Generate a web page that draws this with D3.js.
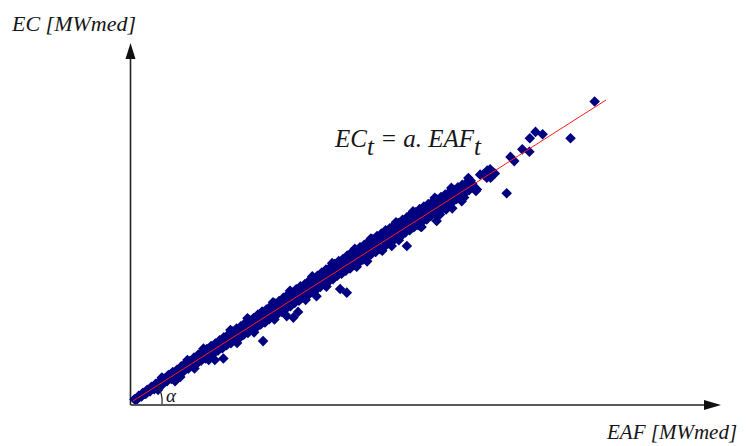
<!DOCTYPE html>
<html>
<head>
<meta charset="utf-8">
<script src="https://cdn.jsdelivr.net/npm/d3@7"></script>
<style>
  html, body { margin: 0; padding: 0; background: #fff; }
  svg { display: block; }
  .lbl { font-family: "Liberation Serif", "DejaVu Serif", serif; font-style: italic; fill: #161616; }
</style>
</head>
<body>
<svg id="chart" width="749" height="446"></svg>
<script>
// Monthly pairs of energy available for allocation (EAF) and energy consumed (EC), MWmed
const bandPoints = [
  [0.3,0.6],[0.6,0.6],[0.9,0.6],[1.2,1.7],[1.5,1.6],[1.8,1.5],[2.1,2.7],[2.4,2.4],[2.7,2.3],
  [3.0,3.7],[3.3,3.5],[3.6,3.2],[3.9,4.7],[4.2,4.3],[4.5,3.9],[4.8,5.7],[5.1,5.4],[5.4,4.9],
  [5.7,6.7],[6.0,6.2],[6.3,5.6],[6.6,7.5],[6.9,7.3],[7.2,6.6],[7.5,8.6],[7.8,8.0],[8.1,7.3],
  [8.4,9.6],[8.7,9.0],[9.0,8.3],[9.3,10.4],[9.6,9.7],[9.9,9.0],[10.2,11.5],[10.5,10.9],[10.8,10.0],
  [11.1,12.5],[11.4,11.7],[11.7,10.7],[12.0,13.3],[12.3,12.8],[12.6,11.7],[12.9,14.4],[13.2,13.4],[13.5,12.4],
  [13.8,15.4],[14.1,14.5],[14.4,13.4],[14.7,16.2],[15.0,15.3],[15.3,14.1],[15.6,17.3],[15.9,16.4],[16.2,15.1],
  [16.5,18.3],[16.8,17.1],[17.1,15.8],[17.4,19.1],[17.7,18.3],[18.0,16.8],[18.3,20.2],[18.6,19.0],[18.9,17.5],
  [19.2,21.2],[19.5,20.0],[19.8,18.5],[20.1,22.0],[20.4,20.7],[20.7,19.2],[21.0,23.1],[21.3,21.9],[21.6,20.2],
  [21.9,24.1],[22.2,22.6],[22.5,20.9],[22.8,24.8],[23.1,23.8],[23.4,22.0],[23.7,25.9],[24.0,24.5],[24.3,22.6],
  [24.6,26.9],[24.9,25.5],[25.2,23.7],[25.5,27.6],[25.8,26.2],[26.1,24.4],[26.4,28.7],[26.7,27.4],[27.0,25.4],
  [27.3,29.7],[27.6,28.1],[27.9,26.1],[28.2,30.4],[28.5,29.1],[28.8,27.2],[29.1,31.5],[29.4,29.8],[29.7,27.9],
  [30.0,32.5],[30.3,31.0],[30.6,28.9],[30.9,33.2],[31.2,31.7],[31.5,29.6],[31.8,34.3],[32.1,32.9],[32.4,30.7],
  [32.7,35.3],[33.0,33.6],[33.3,31.5],[33.6,36.0],[33.9,34.6],[34.2,32.6],[34.5,37.1],[34.8,35.3],[35.1,33.3],
  [35.4,38.1],[35.7,36.5],[36.0,34.3],[36.3,38.8],[36.6,37.2],[36.9,35.0],[37.2,39.9],[37.5,38.4],[37.8,36.2],
  [38.1,40.9],[38.4,39.1],[38.7,36.9],[39.0,41.6],[39.3,40.1],[39.6,37.9],[39.9,42.7],[40.2,40.8],[40.5,38.6],
  [40.8,43.7],[41.1,42.0],[41.4,39.7],[41.7,44.4],[42.0,42.7],[42.3,40.5],[42.6,45.5],[42.9,43.7],[43.2,41.6],
  [43.5,46.5],[43.8,44.4],[44.1,42.3],[44.4,47.2],[44.7,45.6],[45.0,43.3],[45.3,48.3],[45.6,46.3],[45.9,44.0],
  [46.2,49.3],[46.5,47.5],[46.8,45.2],[47.1,50.0],[47.4,48.2],[47.7,45.9],[48.0,51.1],[48.3,49.2],[48.6,46.9],
  [48.9,51.9],[49.2,49.9],[49.5,47.6],[49.8,53.0],[50.1,51.1],[50.4,48.8],[50.7,53.7],[51.0,51.8],[51.3,49.5],
  [51.6,54.8],[51.9,52.8],[52.2,50.5],[52.5,55.6],[52.8,53.5],[53.1,51.2],[53.4,56.7],[53.7,54.7],[54.0,52.4],
  [54.3,57.4],[54.6,55.4],[54.9,53.1],[55.2,58.4],[55.5,56.4],[55.8,54.1],[56.1,59.1],[56.4,57.1],[56.7,54.8],
  [57.0,60.2],[57.3,58.3],[57.6,56.0],[57.9,61.0],[58.2,59.0],[58.5,56.7],[58.8,62.1],[59.1,60.0],[59.4,57.7],
  [59.7,62.7],[60.0,60.7],[60.3,58.4],[60.6,63.8],[60.9,61.9],[61.2,59.6],[61.5,64.6],[61.8,62.6],[62.1,60.3],
  [62.4,65.4],[62.7,63.6],[63.0,61.5],[63.3,66.2],[63.6,64.2],[63.9,62.2],[64.2,67.0],[64.5,65.4],[64.8,63.3],
  [65.1,67.8],[65.4,66.1],[65.7,64.1],[66.0,68.6],[66.3,67.1],[66.6,65.2],[66.9,69.4],[67.2,67.8],[67.5,66.0],
  [67.8,70.2],[68.1,68.9],[68.4,67.1],[68.7,71.0],[69.0,69.5],[69.3,67.9],[69.6,71.8],[69.9,70.6],[70.2,69.0],
  [70.5,72.5],[70.8,71.2],[71.1,70.1],[71.4,73.2],[71.7,72.2],[72.0,71.2]
];

// Months sitting on the ragged edges of the band
const edgePoints = [
  [6.1,7.8],[11.5,13.6],[14.9,17.4],[20.6,23.6],[24.2,27.5],[29.6,32.8],[33.2,36.6],[37.9,41.4],
  [42.1,45.8],[46.9,50.6],[50.3,54.0],[55.6,59.4],[59.2,63.0],[63.8,67.5],[67.3,70.8],[70.9,74.1],
  [10.0,8.0],[13.0,10.8],[16.0,13.6],[22.0,19.3],[25.6,22.8],[29.9,27.1],[36.5,33.6],[40.9,38.0],
  [47.3,44.6],[52.7,49.9],[56.2,53.4],[60.8,58.0],[66.2,63.6],[70.0,67.6]
];

// Months that fall away from the main band
const outlierPoints = [
  [5.3,3.7],[8.9,6.6],[17.3,13.6],[19.1,14.1],[27.5,19.9],[32.5,28.2],[33.9,27.7],[34.9,29.6],
  [38.8,34.8],[43.8,37.2],[45.2,36.0],[49.5,46.4],[54.7,51.5],[57.9,51.5],[61.0,57.8],[64.2,59.8],
  [64.9,62.0],[67.5,64.0],[69.5,66.4],[72.5,69.8],[72.7,70.3],[73.4,75.2],[74.1,75.3],[74.8,74.2],
  [74.9,76.6],[75.5,77.0],[75.6,74.2],[76.0,76.1],[76.5,75.6],[79.0,69.0],[79.8,81.1],[80.6,79.7],
  [82.3,83.6],[83.8,82.8],[83.9,87.3],[85.1,89.4],[86.6,88.6],[92.5,87.3],[97.6,99.5]
];

// Fitted relation through the origin: EC = a · EAF
const fitSlope = 1.0;
const fitRange = [0, 100];

const svg = d3.select("#chart");

const x = d3.scaleLinear().domain([0, 100]).range([133, 606]);
const y = d3.scaleLinear().domain([0, 100]).range([401, 100]);

// Axes with arrowheads
const axisColor = "#222";
const ox = 130.5, oy = 405;
svg.append("line").attr("x1", ox).attr("y1", oy).attr("x2", ox).attr("y2", 52)
  .attr("stroke", axisColor).attr("stroke-width", 1.6);
svg.append("path").attr("d", `M${ox},43 L${ox - 5},59 L${ox + 5},59 Z`).attr("fill", "#111");
svg.append("line").attr("x1", ox).attr("y1", oy).attr("x2", 712).attr("y2", oy)
  .attr("stroke", axisColor).attr("stroke-width", 1.6);
svg.append("path").attr("d", `M721,${oy} L704,${oy - 5} L704,${oy + 5} Z`).attr("fill", "#111");

// Scatter of monthly observations
const diamond = d3.symbol(d3.symbolSquare, 56);
svg.append("g").selectAll("path")
  .data(bandPoints.concat(edgePoints, outlierPoints))
  .join("path")
  .attr("d", diamond)
  .attr("transform", d => `translate(${x(d[0])},${y(d[1])}) rotate(45)`)
  .attr("fill", "#000080");

// Regression line
svg.append("line")
  .attr("x1", x(fitRange[0])).attr("y1", y(fitSlope * fitRange[0]))
  .attr("x2", x(fitRange[1])).attr("y2", y(fitSlope * fitRange[1]))
  .attr("stroke", "#ff1a1a").attr("stroke-width", 1);

// Angle marker between the fit line and the horizontal axis
const r = 29;
const ang = Math.atan2(y(0) - y(fitSlope * 100), x(100) - x(0));
svg.append("path")
  .attr("d", `M${x(0) + r},${y(0) + 3} A${r},${r} 0 0 0 ${x(0) + r * Math.cos(ang)},${y(0) - r * Math.sin(ang)}`)
  .attr("fill", "none").attr("stroke", "#222").attr("stroke-width", 1.2);
svg.append("text").attr("class", "lbl").attr("x", 166).attr("y", 402)
  .attr("font-size", 19).text("α");

// Axis titles
svg.append("text").attr("class", "lbl").attr("x", 12).attr("y", 31)
  .attr("font-size", 22).text("EC [MWmed]");
svg.append("text").attr("class", "lbl").attr("x", 607).attr("y", 439)
  .attr("font-size", 21).text("EAF [MWmed]");

// Model equation
const eq = svg.append("text").attr("class", "lbl").attr("x", 335).attr("y", 147).attr("font-size", 25);
eq.append("tspan").text("EC");
eq.append("tspan").attr("dy", 8).text("t");
eq.append("tspan").attr("dy", -8).text(" = a. EAF");
eq.append("tspan").attr("dy", 8).text("t");
</script>
</body>
</html>
